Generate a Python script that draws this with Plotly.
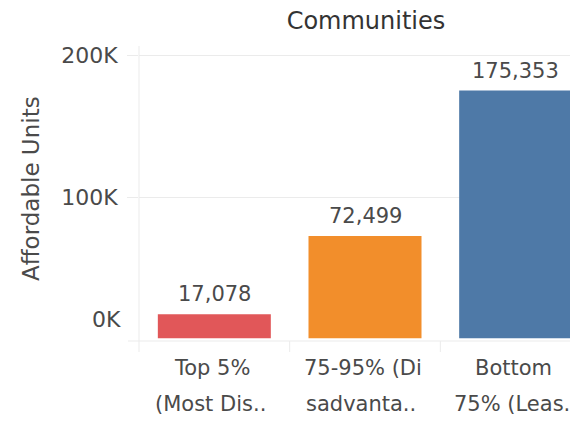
import plotly.graph_objects as go

categories = ["Top 5% (Most Dis..", "75-95% (Di sadvanta..", "Bottom 75% (Leas."]
tick_line1 = ["Top 5%", "75-95% (Di", "Bottom"]
tick_line2 = ["(Most Dis..", "sadvanta..", "75% (Leas."]
values = [17078, 72499, 175353]
value_labels = ["17,078", "72,499", "175,353"]
colors = ["#E15759", "#F28E2B", "#4E79A7"]
y_ticks = [100000, 200000]
y_tick_text = ["100K", "200K"]

FONT = "DejaVu Sans"
TXT = "#4a4a4a"
GRID = "#EBEBEB"
FS_NUM = 21
FS_TXT = 22

fig = go.Figure()
fig.add_trace(go.Bar(
    x=list(range(len(categories))), y=values, marker=dict(color=colors, line=dict(width=0)),
    width=0.75, hoverinfo="skip",
))

# the page body adds an 8px offset; figure coordinates = window coordinates - 8
W, H = 578, 424
ml, mr, mt, mb = 131, 8, 38, 91
pw = W - ml - mr
ph = H - mt - mb

def py(win_y):
    """window y -> paper y"""
    return 1 - ((win_y - 8) - mt) / ph

def px(win_x):
    return ((win_x - 8) - ml) / pw

annotations = []
for i, (v, t) in enumerate(zip(values, value_labels)):
    annotations.append(dict(x=i, y=v, xref="x", yref="y", text=t, showarrow=False,
                            yanchor="bottom", yshift=6,
                            font=dict(family=FONT, size=FS_NUM, color=TXT)))
# x category labels (two lines, Tableau-style wrapping)
for i, (a, b) in enumerate(zip(tick_line1, tick_line2)):
    annotations.append(dict(x=i, y=py(368), xref="x", yref="paper", text=a, showarrow=False,
                            yanchor="middle", xshift=-2,
                            font=dict(family=FONT, size=21, color=TXT)))
    annotations.append(dict(x=i, y=py(404), xref="x", yref="paper", text=b, showarrow=False,
                            yanchor="middle", xshift=-4,
                            font=dict(family=FONT, size=21, color=TXT)))
# 0K label (Tableau lifts the bottom label above the baseline)
annotations.append(dict(x=0, y=0, xref="paper", yref="y", text="0K", showarrow=False,
                        xanchor="right", yanchor="middle", xshift=-16, yshift=19,
                        font=dict(family=FONT, size=FS_TXT, color=TXT)))
# Y axis title
annotations.append(dict(x=px(31), y=py(189), xref="paper", yref="paper", text="Affordable Units",
                        showarrow=False, textangle=-90, xanchor="center", yanchor="middle",
                        font=dict(family=FONT, size=23, color=TXT)))

shapes = []
shapes.append(dict(type="line", xref="paper", yref="paper", x0=0, x1=0, y0=-11 / ph, y1=1,
                   line=dict(color=GRID, width=1)))
for xv in [0.5, 1.5]:
    shapes.append(dict(type="line", xref="x", yref="paper", x0=xv, x1=xv, y0=-11 / ph, y1=0,
                       line=dict(color=GRID, width=1)))
shapes.append(dict(type="line", xref="paper", yref="paper", x0=-11 / pw, x1=1, y0=0, y1=0,
                   line=dict(color=GRID, width=1)))

fig.update_layout(
    width=W, height=H,
    margin=dict(l=ml, r=mr, t=mt, b=mb, pad=0),
    paper_bgcolor="white", plot_bgcolor="white",
    showlegend=False,
    title=dict(text="Communities", x=(366 - 8) / W, xanchor="center", xref="container",
               y=1 - (21 - 8) / H, yanchor="middle", yref="container",
               font=dict(family=FONT, size=24, color="#333333")),
    xaxis=dict(range=[-0.5, 2.5 - 13 / 150.65], tickvals=list(range(len(categories))),
               ticktext=["", "", ""], showgrid=False, zeroline=False, showline=False,
               ticks="", fixedrange=True),
    yaxis=dict(range=[-1900, 206900], tickvals=y_ticks, ticktext=y_tick_text,
               showgrid=True, gridcolor=GRID, gridwidth=1, zeroline=False, showline=False,
               ticks="outside", ticklen=11, tickcolor=GRID, ticklabelstandoff=5,
               tickfont=dict(family=FONT, size=FS_TXT, color=TXT)),
    annotations=annotations, shapes=shapes,
)

fig.write_html("out.html")
